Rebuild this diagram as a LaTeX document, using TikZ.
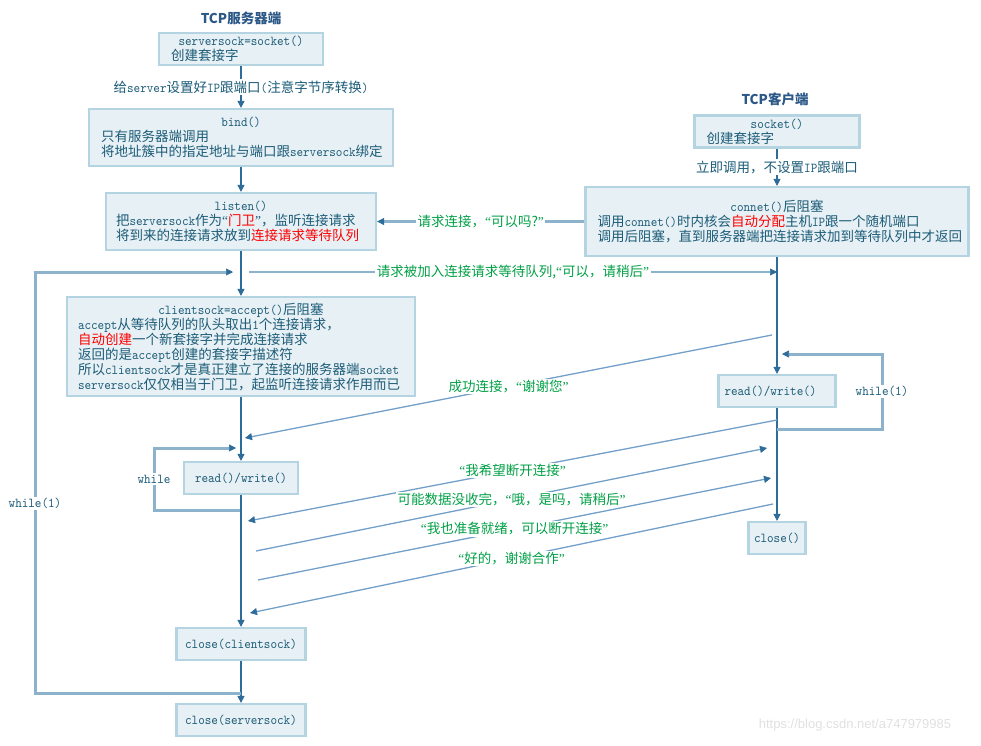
\documentclass[tikz,border=0pt]{standalone}
\usepackage{fontspec}
\setmainfont{Noto Sans CJK SC}
\newfontfamily\wmfont{Liberation Sans}
\newfontfamily\qf{Liberation Serif}
\newfontfamily\codefont[FakeStretch=0.92]{lmmono10-regular.otf}
\usetikzlibrary{arrows.meta}
\definecolor{txt}{RGB}{28,92,120}
\definecolor{ttl}{RGB}{44,88,136}
\definecolor{bfill}{RGB}{231,240,244}
\definecolor{bdraw}{RGB}{180,212,225}
\definecolor{flowc}{RGB}{46,108,154}
\definecolor{loopc}{RGB}{140,178,204}
\definecolor{diagc}{RGB}{115,160,200}
\definecolor{grn}{RGB}{0,160,70}
\newcommand{\lt}[1]{{\fontsize{13.6}{15}\codefont #1}}
\newcommand{\rd}[1]{\textcolor{red}{#1}}
\newcommand{\oq}{{\qf “}}
\newcommand{\cq}{{\qf ”}}
\newcommand{\hd}[2]{\makebox[#1][c]{#2}\\}
\begin{document}
\begin{tikzpicture}[x=1pt,y=-1pt,
  every node/.style={font=\fontsize{13.5}{15}\selectfont, text=txt},
  box/.style={draw=bdraw, line width=2.2pt, fill=bfill, inner xsep=12pt, inner ysep=0pt, align=left},
  sbox/.style={draw=bdraw, line width=2.2pt, fill=bfill, inner sep=0pt, align=center},
  tip/.style={-{Triangle[length=7pt,width=7pt,line width=0.6pt,color=flowc]}},
  flow/.style={draw=flowc, line width=1.3pt, tip},
  loopl/.style={draw=loopc, line width=3pt, tip},
  msg/.style={draw=loopc, line width=2.8pt, tip},
  diag/.style={draw=diagc, line width=1.3pt, tip},
  lbl/.style={fill=white, inner sep=1.5pt},
  glbl/.style={fill=white, inner sep=1.5pt, text=grn},
  ttlf/.style={font=\fontsize{13.5}{15}\selectfont\bfseries, text=ttl}
]
\useasboundingbox (0,0) rectangle (981,745);

% titles
\node[ttlf] (tsrv) at (241,18) {TCP服务器端};
\node[ttlf] (tcli) at (775,99) {TCP客户端};

% server boxes
\node[box, text width=140pt, minimum height=32pt] (sbox1) at (241,49)
  {\hd{140pt}{\lt{serversock=socket()}}创建套接字};
\node[box, text width=280pt, minimum height=57pt] (bind) at (241,137.5)
  {\hd{280pt}{\lt{bind()}}只有服务器端调用\\将地址簇中的指定地址与端口跟\lt{serversock}绑定};
\node[box, inner xsep=10pt, text width=250pt, minimum height=57pt] (listen) at (241,221.5)
  {\hd{250pt}{\lt{listen()}}把\lt{serversock}作为\oq\rd{门卫}\cq，监听连接请求\\将到来的连接请求放到\rd{连接请求等待队列}};
\node[box, inner xsep=11pt, text width=326pt, minimum height=99pt] (accept) at (241,346.5)
  {\hd{326pt}{\lt{clientsock=accept()}后阻塞}\lt{accept}从等待队列的队头取出\lt{1}个连接请求，\\
   \rd{自动创建}一个新套接字并完成连接请求\\
   返回的是\lt{accept}创建的套接字描述符\\
   所以\lt{clientsock}才是真正建立了连接的服务器端\lt{socket}\\
   \lt{serversock}仅仅相当于门卫，起监听连接请求作用而已};
\node[sbox, minimum width=114pt, minimum height=32pt] (srw) at (241,478) {\lt{read()/write()}};
\node[sbox, minimum width=129pt, minimum height=32pt] (ccs) at (241,644) {\lt{close(clientsock)}};
\node[sbox, minimum width=129pt, minimum height=32pt] (css) at (241,720) {\lt{close(serversock)}};

% client boxes
\node[box, text width=141pt, minimum height=32pt] (csock) at (777,131.5)
  {\hd{141pt}{\lt{socket()}}创建套接字};
\node[box, text width=359pt, minimum height=69pt] (conn) at (777,221.5)
  {\hd{359pt}{\lt{connet()}后阻塞}调用\lt{connet()}时内核会\rd{自动分配}主机\lt{IP}跟一个随机端口\\调用后阻塞，直到服务器端把连接请求加到等待队列中才返回};
\node[box, inner xsep=6pt, text width=105pt, minimum height=32pt] (crw) at (777,391) {\lt{read()/write()}};
\node[sbox, minimum width=57pt, minimum height=32pt] (cclose) at (777,538) {\lt{close()}};

% vertical flows
\draw[flow] (sbox1) -- node[lbl] (l1) {给\lt{server}设置好\lt{IP}跟端口\lt{(}注意字节序转换\lt{)}} (bind);
\draw[flow] (bind) -- (listen);
\draw[flow] (listen) -- (accept);
\draw[flow] (accept) -- (srw);
\draw[flow] (srw) -- (ccs);
\draw[flow] (ccs) -- (css);
\draw[flow] (csock) -- node[lbl] (l2) {立即调用，不设置\lt{IP}跟端口} (conn);
\draw[flow] (conn) -- (crw);
\draw[flow] (crw) -- (cclose);

% loops
\coordinate (lpA) at (241,693);
\coordinate (lpB) at (35,693);
\coordinate (lpC) at (35,272);
\coordinate (lpD) at (233,272);
\draw[loopl] (lpA) -- (lpB) -- node[lbl, pos=0.45] (w1) {\lt{while(1)}} (lpC) -- (lpD);

\coordinate (spA) at (240,510);
\coordinate (spB) at (154,510);
\coordinate (spC) at (154,448);
\coordinate (spD) at (236,448);
\draw[loopl] (spA) -- (spB) -- node[lbl] (w2) {\lt{while}} (spC) -- (spD);

\coordinate (cpA) at (777,429);
\coordinate (cpB) at (882,429);
\coordinate (cpC) at (882,354);
\coordinate (cpD) at (782,354);
\draw[loopl] (cpA) -- (cpB) -- node[lbl] (w3) {\lt{while(1)}} (cpC) -- (cpD);

% horizontal messages
\draw[msg] (conn.west) -- node[glbl] (m1) {请求连接，\oq 可以吗?\cq} (listen.east);
\coordinate (r1) at (249,272);
\coordinate (r2) at (777,272);
\draw[msg] (r1) -- node[glbl] (m2) {请求被加入连接请求等待队列,\oq 可以，请稍后\cq} (r2);

% diagonal messages
\coordinate (d0a) at (772,335); \coordinate (d0b) at (245,438);
\coordinate (d1a) at (777,420); \coordinate (d1b) at (248,521);
\coordinate (d2a) at (256,551); \coordinate (d2b) at (767,448);
\coordinate (d3a) at (258,580); \coordinate (d3b) at (771,478);
\coordinate (d4a) at (773,504); \coordinate (d4b) at (250,613);
\draw[diag] (d0a) -- node[glbl] (g0) {成功连接，\oq 谢谢您\cq} (d0b);
\draw[diag] (d1a) -- node[glbl] (g1) {\oq 我希望断开连接\cq} (d1b);
\draw[diag] (d2a) -- node[glbl] (g2) {可能数据没收完，\oq 哦，是吗，请稍后\cq} (d2b);
\draw[diag] (d3a) -- node[glbl] (g3) {\oq 我也准备就绪，可以断开连接\cq} (d3b);
\draw[diag] (d4a) -- node[glbl] (g4) {\oq 好的，谢谢合作\cq} (d4b);

% watermark
\node[text=black!12, font={\wmfont\fontsize{13}{15}\selectfont}] (wm) at (855,725) {https://blog.csdn.net/a747979985};
\end{tikzpicture}
\end{document}
